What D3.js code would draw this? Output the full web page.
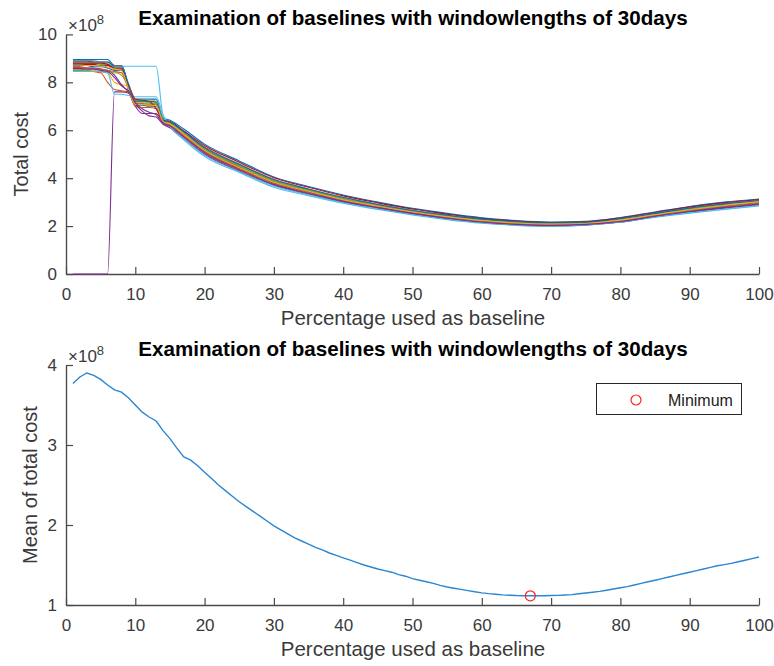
<!DOCTYPE html>
<html><head><meta charset="utf-8">
<script src="https://cdn.jsdelivr.net/npm/d3@7"></script>
<style>
body{margin:0;background:#fff}
svg{display:block}
text{font-family:"Liberation Sans",Arial,Helvetica,sans-serif}
</style>
</head><body>
<svg id="chart" width="774" height="666"></svg>
<script>
// ---------- data ----------
const chartTitle = "Examination of baselines with windowlengths of 30days";
const xLabel = "Percentage used as baseline";
const topYLabel = "Total cost";
const bottomYLabel = "Mean of total cost";
const xTicks = [0,10,20,30,40,50,60,70,80,90,100];
const topYTicks = [0,2,4,6,8,10];
const bottomYTicks = [1,2,3,4];

// percentages at which the window series are read (x 10^8 total cost)
const percentGrid = [1,2,3,4,5,6,7,8,9,10,11,12,13,14,15,17,20,25,30,35,40,45,50,55,60,65,70,75,80,85,90,95,100];
const window01 = [8.95,8.95,8.95,8.95,8.95,8.95,8.7,8.7,7.95,7.3,7.3,7.3,7.3,6.5,6.42,6.05,5.42,4.72,4.05,3.65,3.3,3.0,2.74,2.53,2.35,2.23,2.17,2.2,2.36,2.59,2.82,3.0,3.13];
const window02 = [8.9,8.9,8.9,8.9,8.85,8.85,8.7,8.7,7.9,7.25,7.25,7.25,7.2,6.45,6.38,5.95,5.3,4.59,3.95,3.55,3.2,2.91,2.66,2.46,2.3,2.19,2.14,2.17,2.32,2.54,2.76,2.94,3.1];
const window03 = [8.85,8.85,8.85,8.85,8.85,8.8,8.65,8.65,7.85,7.2,7.2,7.2,7.15,6.42,6.33,5.9,5.25,4.54,3.9,3.51,3.16,2.88,2.63,2.43,2.27,2.17,2.12,2.15,2.3,2.52,2.74,2.92,3.07];
const window04 = [0,0,0,0,0,0,7.6,7.6,7.55,7.0,6.7,6.7,6.7,6.35,6.25,5.85,5.2,4.49,3.87,3.48,3.13,2.86,2.61,2.41,2.26,2.16,2.11,2.14,2.28,2.5,2.72,2.9,3.05];
const window05 = [8.8,8.8,8.8,8.8,8.75,8.75,8.6,8.6,7.8,7.15,7.15,7.1,7.1,6.4,6.3,5.85,5.18,4.47,3.85,3.46,3.11,2.84,2.6,2.4,2.24,2.14,2.09,2.12,2.26,2.48,2.7,2.87,3.02];
const window06 = [8.7,8.7,8.7,8.7,8.7,8.7,8.67,8.67,8.67,8.67,8.67,8.67,8.67,6.6,6.15,5.6,4.9,4.24,3.62,3.27,2.95,2.69,2.46,2.27,2.12,2.03,1.99,2.04,2.16,2.37,2.54,2.69,2.84];
const window07 = [8.75,8.75,8.75,8.75,8.7,8.7,8.55,8.55,7.75,7.1,7.1,7.05,7.05,6.38,6.27,5.82,5.15,4.44,3.82,3.44,3.09,2.82,2.58,2.38,2.22,2.12,2.07,2.1,2.24,2.46,2.67,2.85,3.0];
const window08 = [8.7,8.7,8.7,8.65,8.65,8.6,8.5,8.5,7.7,7.05,7.05,7.0,7.0,6.35,6.22,5.78,5.12,4.41,3.8,3.42,3.07,2.8,2.56,2.36,2.2,2.1,2.06,2.09,2.23,2.45,2.66,2.83,2.98];
const window09 = [8.55,8.55,8.5,8.45,8.4,8.0,7.7,7.65,7.6,7.0,6.95,6.95,6.9,6.3,6.15,5.7,5.05,4.34,3.72,3.35,3.02,2.76,2.52,2.32,2.16,2.06,2.02,2.06,2.18,2.4,2.6,2.76,2.9];
const window10 = [8.6,8.6,8.55,8.5,8.45,8.4,8.0,7.9,7.85,7.3,7.25,7.25,7.2,6.4,6.2,5.75,5.08,4.37,3.75,3.38,3.04,2.78,2.54,2.34,2.18,2.08,2.04,2.07,2.2,2.42,2.62,2.79,2.93];
const window11 = [8.65,8.65,8.6,8.6,8.55,8.5,8.3,7.9,7.6,7.1,6.8,6.6,6.55,6.25,6.1,5.65,5.0,4.3,3.7,3.33,3.0,2.74,2.51,2.31,2.16,2.06,2.02,2.05,2.17,2.39,2.59,2.75,2.89];
const window12 = [8.5,8.5,8.5,8.45,8.45,8.4,8.4,8.3,7.8,7.2,7.2,7.15,7.1,6.4,6.3,5.88,5.22,4.52,3.88,3.49,3.14,2.87,2.62,2.42,2.25,2.15,2.1,2.13,2.27,2.49,2.71,2.88,3.03];
const window13 = [8.45,8.45,8.45,8.45,8.45,8.4,7.5,7.5,7.45,7.4,7.4,7.4,7.4,6.65,6.15,5.65,4.95,4.27,3.67,3.31,2.98,2.72,2.49,2.29,2.14,2.04,2.0,2.05,2.17,2.38,2.56,2.71,2.86];
const window14 = [8.8,8.8,8.8,8.8,8.8,8.75,8.6,8.6,7.9,7.3,7.25,7.2,6.9,6.4,6.35,5.97,5.36,4.66,4.02,3.62,3.26,2.97,2.71,2.5,2.32,2.21,2.15,2.18,2.34,2.57,2.8,2.98,3.11];
const window15 = [8.88,8.88,8.88,8.85,8.85,8.85,8.68,8.68,7.88,7.22,7.22,7.2,7.18,6.43,6.35,5.93,5.27,4.57,3.93,3.54,3.19,2.9,2.65,2.45,2.29,2.18,2.13,2.16,2.31,2.53,2.75,2.93,3.06];
const window16 = [8.62,8.62,8.6,8.58,8.55,8.5,8.45,8.4,7.75,7.12,7.1,7.05,7.02,6.36,6.24,5.8,5.13,4.42,3.79,3.41,3.06,2.79,2.55,2.35,2.19,2.09,2.05,2.08,2.21,2.43,2.64,2.81,2.95];
const window17 = [8.72,8.72,8.7,8.7,8.68,8.65,8.55,8.5,7.72,7.08,7.08,7.05,7.03,6.37,6.26,5.83,5.16,4.45,3.83,3.45,3.1,2.83,2.59,2.39,2.23,2.13,2.08,2.11,2.25,2.47,2.68,2.86,3.01];
const window18 = [8.58,8.58,8.55,8.55,8.5,8.45,8.2,7.85,7.65,7.15,6.9,6.75,6.65,6.3,6.18,5.73,5.07,4.36,3.74,3.37,3.03,2.77,2.53,2.33,2.17,2.07,2.03,2.07,2.19,2.41,2.61,2.78,2.92];
const windowSeries = [window01,window02,window03,window04,window05,window06,window07,window08,window09,window10,window11,window12,window13,window14,window15,window16,window17,window18];
const windowColors = ["#0072BD","#D95319","#EDB120","#7E2F8E","#77AC30","#4DBEEE","#A2142F",
                      "#0072BD","#D95319","#EDB120","#7E2F8E","#77AC30","#4DBEEE","#A2142F",
                      "#0072BD","#D95319","#EDB120","#7E2F8E"];

// mean of total cost (x 10^8) for percentage 1..100
const meanPercent = d3.range(1, 101);
const meanCost = [
 3.77,3.85,3.90,3.87,3.82,3.75,3.69,3.66,3.59,3.50,
 3.41,3.35,3.30,3.18,3.08,2.96,2.85,2.81,2.74,2.66,
 2.58,2.50,2.43,2.36,2.29,2.23,2.17,2.11,2.05,1.99,
 1.94,1.89,1.84,1.80,1.76,1.72,1.69,1.65,1.62,1.59,
 1.56,1.53,1.50,1.475,1.45,1.43,1.41,1.38,1.36,1.33,
 1.31,1.29,1.27,1.245,1.225,1.21,1.195,1.18,1.165,1.152,
 1.142,1.134,1.127,1.122,1.118,1.116,1.115,1.115,1.116,1.118,
 1.12,1.125,1.13,1.14,1.15,1.16,1.17,1.185,1.20,1.215,
 1.23,1.25,1.27,1.29,1.31,1.33,1.35,1.37,1.39,1.41,
 1.43,1.45,1.47,1.49,1.505,1.52,1.54,1.56,1.58,1.60];
const legendLabel = "Minimum";

// ---------- drawing ----------
const svg = d3.select("#chart");
const axisColor = "#4a4a4a";
const x = d3.scaleLinear([0,100],[66,759]);
const yTop = d3.scaleLinear([0,10],[274,34.4]);
const yBot = d3.scaleLinear([1,4],[605,365]);

function styleAxis(g){
  g.select(".domain").attr("stroke",axisColor).attr("stroke-width",1.4);
  g.selectAll(".tick line").attr("stroke",axisColor).attr("stroke-width",1.2);
  g.selectAll(".tick text").attr("fill","#3a3a3a").attr("font-size",17)
   .attr("font-family",'"Liberation Sans",Arial,sans-serif');
}

function drawFrame(yScale, yTicks, yTitle, titleY, yLabelX, xLabelY){
  const y0 = yScale.range()[0];
  svg.append("g").attr("transform",`translate(0,${y0})`)
    .call(d3.axisBottom(x).tickValues(xTicks).tickSize(-7).tickSizeOuter(0).tickPadding(14))
    .call(styleAxis);
  svg.append("g").attr("transform",`translate(${x(0)},0)`)
    .call(d3.axisLeft(yScale).tickValues(yTicks).tickSize(-7).tickSizeOuter(0).tickPadding(9).tickFormat(d3.format("d")))
    .call(styleAxis);
  svg.append("text").attr("x",413).attr("y",titleY).attr("text-anchor","middle")
    .attr("font-size",20.6).attr("font-weight","bold").attr("fill","#000").text(chartTitle);
  svg.append("text").attr("x",413).attr("y",xLabelY).attr("text-anchor","middle")
    .attr("font-size",20.5).attr("fill","#3a3a3a").text(xLabel);
  const yc = (yScale.range()[0]+yScale.range()[1])/2;
  svg.append("text").attr("transform",`translate(${yLabelX},${yc}) rotate(-90)`)
    .attr("text-anchor","middle").attr("font-size",20).attr("fill","#3a3a3a").text(yTitle);
  const yt = yScale.range()[1];
  const ex = svg.append("text").attr("x",68).attr("y",yt-3).attr("font-size",17).attr("fill","#3a3a3a");
  ex.append("tspan").text("\u00d710");
  ex.append("tspan").attr("font-size",13).attr("dy",-7).text("8");
}

// top plot
drawFrame(yTop, topYTicks, topYLabel, 25, 28, 325);
const lineTop = d3.line().x((d,i)=>x(percentGrid[i])).y(d=>yTop(d)).curve(d3.curveMonotoneX);
svg.append("g").selectAll("path").data(windowSeries).join("path")
  .attr("d",lineTop).attr("fill","none")
  .attr("stroke",(d,i)=>windowColors[i]).attr("stroke-width",1.1);

// bottom plot
drawFrame(yBot, bottomYTicks, bottomYLabel, 356, 37, 656);
const lineBot = d3.line().x((d,i)=>x(meanPercent[i])).y(d=>yBot(d));
svg.append("path").datum(meanCost).attr("d",lineBot).attr("fill","none")
  .attr("stroke","#2a86d1").attr("stroke-width",1.4);
const iMin = d3.minIndex(meanCost);
svg.append("circle").attr("cx",x(meanPercent[iMin])).attr("cy",yBot(meanCost[iMin])).attr("r",5)
  .attr("fill","none").attr("stroke","#FF2020").attr("stroke-width",1.2);

// legend
const lg = svg.append("g");
lg.append("rect").attr("x",596.5).attr("y",383.5).attr("width",145).attr("height",31)
  .attr("fill","#fff").attr("stroke","#262626").attr("stroke-width",1);
lg.append("circle").attr("cx",636).attr("cy",400).attr("r",5)
  .attr("fill","none").attr("stroke","#FF2020").attr("stroke-width",1.2);
lg.append("text").attr("x",668).attr("y",405.5).attr("font-size",16).attr("fill","#222").text(legendLabel);
</script>
</body></html>
